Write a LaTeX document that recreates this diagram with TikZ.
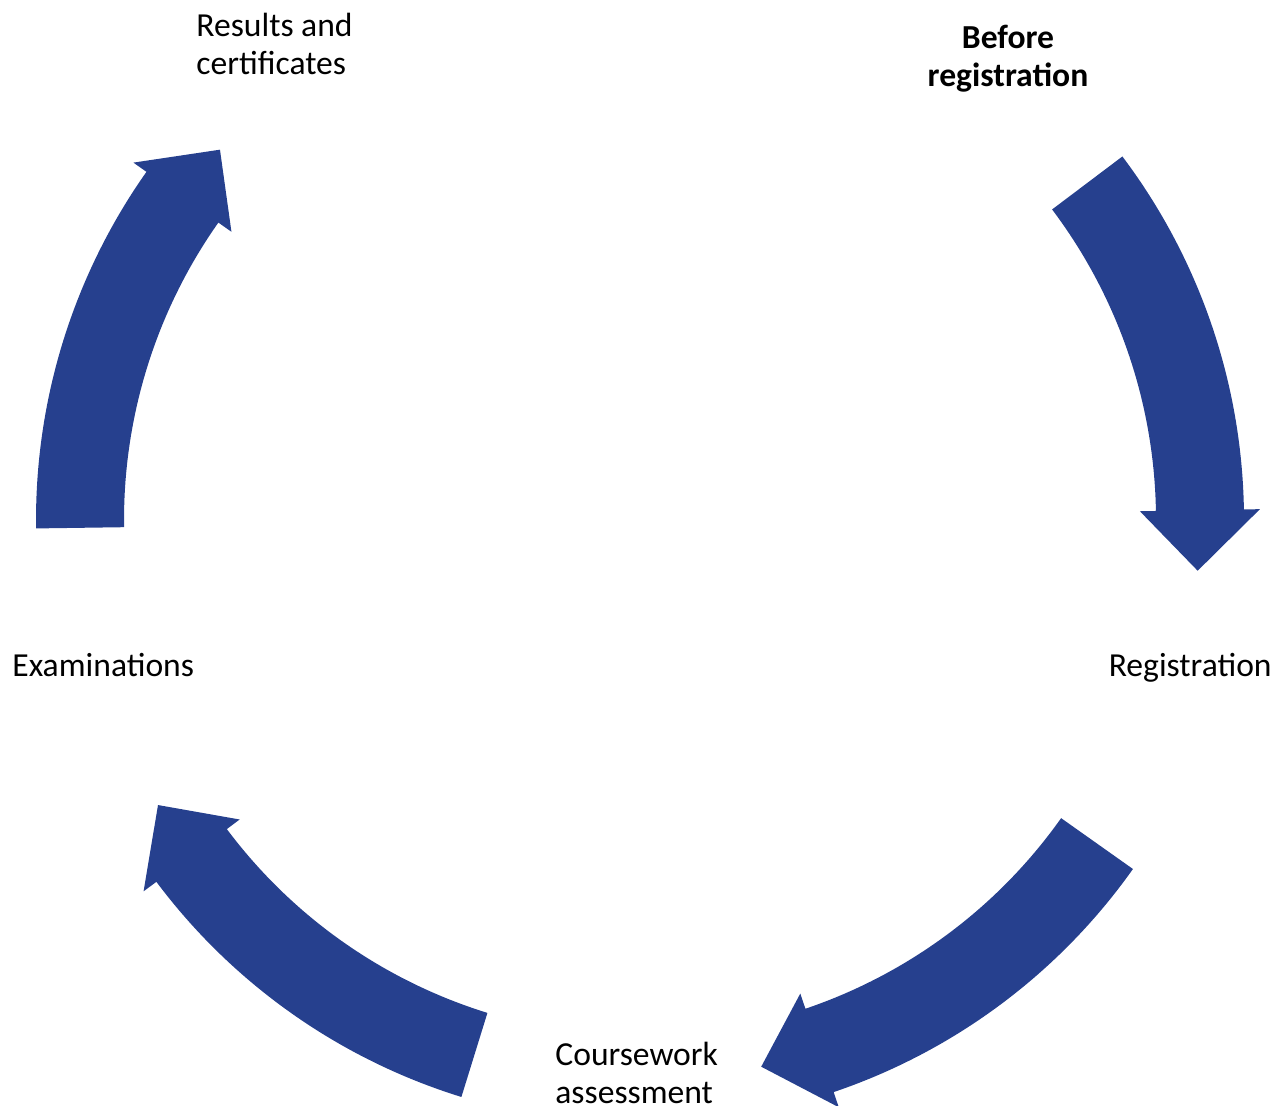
\documentclass[tikz,border=0pt]{standalone}
\usepackage{fontspec}
\setmainfont{Carlito}
\usepackage{tikz}
\definecolor{cycleblue}{RGB}{38,64,142}

\begin{document}
\begin{tikzpicture}[x=0.5pt,y=0.5pt,yscale=-1,xscale=1,
  stage/.style={inner sep=0pt, font=\fontsize{16.8}{19.3}\selectfont},
  boldstage/.style={stage, font=\fontsize{16.8}{19.3}\selectfont\bfseries},
  cyclearrow/.style={fill=cycleblue, draw=none}]
\useasboundingbox (0,0) rectangle (1287,1106);

%Shape: Arrows round the cycle
\begin{scope}[shift={(640,520)}]
  \coordinate (ctr) at (0,0);
  \foreach \ta/\tb/\tc in {-37/-1/5.2, 35.3/71.3/77.5, 107.2/143.2/149.4, 179.2/215.2/221.4}
    \fill[cyclearrow] (\ta:604) arc[start angle=\ta, end angle=\tb, radius=604] -- (\tb:620) -- (\tc:560) -- (\tb:500) -- (\tb:516) arc[start angle=\tb, end angle=\ta, radius=516] -- cycle;
\end{scope}

% Text Node
\node[boldstage, anchor=base, align=center] (before) at (1008,87) {Before\\registration};
% Text Node
\node[stage, anchor=base east] (registration) at (1272,677) {Registration};
% Text Node
\node[stage, anchor=base west, align=left] (coursework) at (555,1104) {Coursework\\assessment};
% Text Node
\node[stage, anchor=base west] (exams) at (12,677) {Examinations};
% Text Node
\node[stage, anchor=base west, align=left] (results) at (196,75) {Results and\\certificates};

\end{tikzpicture}
\end{document}
